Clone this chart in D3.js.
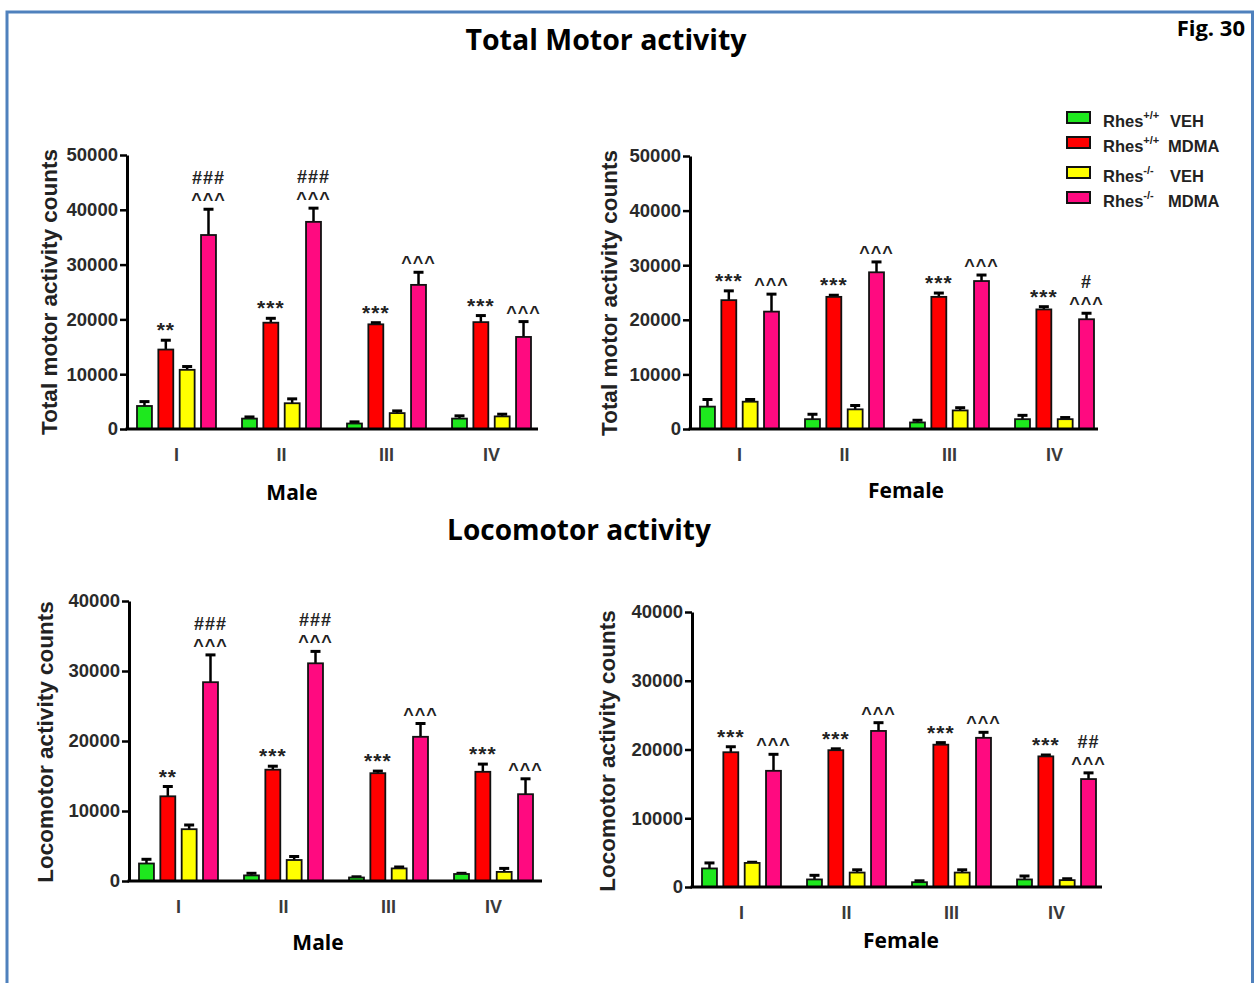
<!DOCTYPE html>
<html>
<head>
<meta charset="utf-8">
<script src="https://cdn.jsdelivr.net/npm/d3@7"></script>
<style>
	body { margin: 0; background: #fff; }
	svg { display: block; }
</style>
</head>
<body>
<svg width="1255" height="983"></svg>
<script>
const groups = ['I', 'II', 'III', 'IV'];
const seriesLabels = [
	{ sup: '+/+', name: 'VEH' },
	{ sup: '+/+', name: 'MDMA' },
	{ sup: '-/-', name: 'VEH' },
	{ sup: '-/-', name: 'MDMA' }
];
const colors = ['#1ee81e', '#ff0000', '#ffff00', '#ff0a80'];

// rows = Rhes+/+ VEH, Rhes+/+ MDMA, Rhes-/- VEH, Rhes-/- MDMA ; columns = I..IV
const totalMaleMean = [
	[4200, 1900, 1000, 1900],
	[14500, 19400, 19100, 19500],
	[10800, 4700, 2900, 2300],
	[35400, 37800, 26300, 16800]
];
const totalMaleSem = [
	[800, 300, 300, 500],
	[1700, 800, 300, 1200],
	[600, 800, 400, 400],
	[4700, 2500, 2300, 2800]
];
const totalMaleMarks = [
	['', '', '', ''],
	['**', '***', '***', '***'],
	['', '', '', ''],
	['###|^^^', '###|^^^', '^^^', '^^^']
];

const totalFemaleMean = [
	[4100, 1800, 1200, 1800],
	[23600, 24200, 24200, 21900],
	[5000, 3600, 3400, 1800],
	[21500, 28700, 27100, 20100]
];
const totalFemaleSem = [
	[1300, 900, 400, 700],
	[1700, 300, 700, 500],
	[400, 700, 500, 300],
	[3200, 1900, 1100, 1100]
];
const totalFemaleMarks = [
	['', '', '', ''],
	['***', '***', '***', '***'],
	['', '', '', ''],
	['^^^', '^^^', '^^^', '#|^^^']
];

const locoMaleMean = [
	[2500, 800, 500, 1000],
	[12100, 15900, 15400, 15600],
	[7400, 3000, 1800, 1300],
	[28400, 31100, 20600, 12400]
];
const locoMaleSem = [
	[600, 300, 100, 100],
	[1400, 500, 300, 1100],
	[600, 500, 200, 500],
	[3900, 1700, 1900, 2200]
];
const locoMaleMarks = [
	['', '', '', ''],
	['**', '***', '***', '***'],
	['', '', '', ''],
	['###|^^^', '###|^^^', '^^^', '^^^']
];

const locoFemaleMean = [
	[2700, 1100, 700, 1100],
	[19600, 19900, 20700, 19000],
	[3500, 2100, 2100, 1000],
	[16900, 22700, 21700, 15700]
];
const locoFemaleSem = [
	[800, 600, 200, 500],
	[800, 200, 300, 200],
	[100, 400, 400, 200],
	[2400, 1200, 800, 900]
];
const locoFemaleMarks = [
	['', '', '', ''],
	['***', '***', '***', '***'],
	['', '', '', ''],
	['^^^', '^^^', '^^^', '##|^^^']
];

const svg = d3.select('svg');
const titleFont = '"Open Sans", sans-serif';
const plotFont = '"Liberation Sans", Arial, sans-serif';

// frame
svg.append('rect')
	.attr('x', 7)
	.attr('y', 12)
	.attr('width', 1245.5)
	.attr('height', 1000)
	.attr('fill', 'none')
	.attr('stroke', '#4f81bd')
	.attr('stroke-width', 3);

function drawPanel(p) {
	const g = svg.append('g');
	const y = d3.scaleLinear()
		.domain([0, p.max])
		.range([p.y0, p.yTop]);
	const x0 = d3.scaleBand()
		.domain(groups)
		.range([p.x + 10, p.x + 404])
		.paddingInner(0.248);
	const x1 = d3.scaleBand()
		.domain(d3.range(4))
		.range([0, x0.bandwidth()])
		.paddingInner(0.3);

	const rows = [];
	p.mean.forEach((vals, s) => vals.forEach((v, i) => {
		rows.push({ s, group: groups[i], v, e: p.sem[s][i], mark: p.marks[s][i] });
	}));

	const cx = d => x0(d.group) + x1(d.s) + x1.bandwidth() / 2;

	// error bars (upper half only)
	g.selectAll('line.err')
		.data(rows)
		.enter()
		.append('line')
		.attr('class', 'err')
		.attr('x1', cx)
		.attr('x2', cx)
		.attr('y1', d => y(d.v))
		.attr('y2', d => y(d.v + d.e))
		.attr('stroke', '#000')
		.attr('stroke-width', 2.5);
	g.selectAll('line.cap')
		.data(rows)
		.enter()
		.append('line')
		.attr('class', 'cap')
		.attr('x1', d => cx(d) - 5)
		.attr('x2', d => cx(d) + 5)
		.attr('y1', d => y(d.v + d.e))
		.attr('y2', d => y(d.v + d.e))
		.attr('stroke', '#000')
		.attr('stroke-width', 3);

	g.selectAll('rect.bar')
		.data(rows)
		.enter()
		.append('rect')
		.attr('class', 'bar')
		.attr('x', d => x0(d.group) + x1(d.s))
		.attr('y', d => y(d.v))
		.attr('width', x1.bandwidth())
		.attr('height', d => y(0) - y(d.v))
		.attr('fill', d => colors[d.s])
		.attr('stroke', '#111')
		.attr('stroke-width', 1.8);

	// significance marks
	rows.filter(d => d.mark).forEach(d => {
		const lines = d.mark.split('|').reverse();
		lines.forEach((t, k) => {
			const star = t.startsWith('*');
			g.append('text')
				.attr('x', cx(d))
				.attr('y', y(d.v + d.e) - 3 - k * 22)
				.attr('text-anchor', 'middle')
				.attr('font-family', plotFont)
				.attr('font-weight', 'bold')
				.attr('font-size', star ? 21 : 18)
				.attr('letter-spacing', star ? 1 : 1)
				.attr('fill', '#222')
				.text(t);
		});
	});

	// y axis
	const yAxis = d3.axisLeft(y)
		.tickValues(d3.range(0, p.max + 1, 10000))
		.tickFormat(d3.format('d'))
		.tickSize(7)
		.tickSizeOuter(0)
		.tickPadding(2);
	const ya = g.append('g')
		.attr('transform', 'translate(' + p.x + ',0)')
		.call(yAxis);
	ya.select('.domain').attr('stroke-width', 3).attr('stroke', '#000');
	ya.selectAll('.tick line').attr('stroke-width', 2.5).attr('stroke', '#000');
	ya.selectAll('.tick text')
		.attr('font-family', plotFont)
		.attr('font-weight', 'bold')
		.attr('font-size', 18.5)
		.attr('fill', '#2a2a2a');

	// x axis
	const xAxis = d3.axisBottom(x0)
		.tickSize(0)
		.tickSizeOuter(0)
		.tickPadding(19);
	const xa = g.append('g')
		.attr('transform', 'translate(0,' + p.y0 + ')')
		.call(xAxis);
	xa.select('.domain').remove();
	xa.selectAll('.tick text')
		.attr('font-family', plotFont)
		.attr('font-weight', 'bold')
		.attr('font-size', 18)
		.attr('fill', '#3a3a3a');
	g.append('line')
		.attr('x1', p.x - 1.5)
		.attr('x2', p.xEnd)
		.attr('y1', p.y0)
		.attr('y2', p.y0)
		.attr('stroke', '#000')
		.attr('stroke-width', 3);

	// axis title
	g.append('text')
		.attr('transform', 'translate(' + p.titleX + ',' + p.titleY + ') rotate(-90)')
		.attr('text-anchor', 'middle')
		.attr('font-family', plotFont)
		.attr('font-weight', 'bold')
		.attr('font-size', 22.5)
		.attr('fill', '#222')
		.text(p.yTitle);

	// sex label
	g.append('text')
		.attr('x', p.sexX)
		.attr('y', p.sexY)
		.attr('text-anchor', 'middle')
		.attr('font-family', titleFont)
		.attr('font-weight', 'bold')
		.attr('font-size', 21)
		.attr('fill', '#000')
		.text(p.sex);
}

drawPanel({
	mean: totalMaleMean, sem: totalMaleSem, marks: totalMaleMarks, max: 50000,
	x: 127, xEnd: 538, yTop: 155, y0: 429,
	yTitle: 'Total motor activity counts', titleX: 57, titleY: 292,
	sex: 'Male', sexX: 292, sexY: 500
});
drawPanel({
	mean: totalFemaleMean, sem: totalFemaleSem, marks: totalFemaleMarks, max: 50000,
	x: 690, xEnd: 1098, yTop: 156, y0: 429,
	yTitle: 'Total motor activity counts', titleX: 617, titleY: 293,
	sex: 'Female', sexX: 906, sexY: 498
});
drawPanel({
	mean: locoMaleMean, sem: locoMaleSem, marks: locoMaleMarks, max: 40000,
	x: 129, xEnd: 542, yTop: 601, y0: 881,
	yTitle: 'Locomotor activity counts', titleX: 53, titleY: 742,
	sex: 'Male', sexX: 318, sexY: 950
});
drawPanel({
	mean: locoFemaleMean, sem: locoFemaleSem, marks: locoFemaleMarks, max: 40000,
	x: 692, xEnd: 1102, yTop: 612, y0: 887,
	yTitle: 'Locomotor activity counts', titleX: 615, titleY: 751,
	sex: 'Female', sexX: 901, sexY: 948
});

// titles
svg.append('text')
	.attr('x', 606)
	.attr('y', 50)
	.attr('text-anchor', 'middle')
	.attr('font-family', titleFont)
	.attr('font-weight', 'bold')
	.attr('font-size', 28.5)
	.attr('fill', '#000')
	.text('Total Motor activity');
svg.append('text')
	.attr('x', 579)
	.attr('y', 540)
	.attr('text-anchor', 'middle')
	.attr('font-family', titleFont)
	.attr('font-weight', 'bold')
	.attr('font-size', 28)
	.attr('fill', '#000')
	.text('Locomotor activity');
svg.append('text')
	.attr('x', 1245)
	.attr('y', 36)
	.attr('text-anchor', 'end')
	.attr('font-family', titleFont)
	.attr('font-weight', 'bold')
	.attr('font-size', 22)
	.attr('fill', '#000')
	.text('Fig. 30');

// legend
const legendY = [112, 137, 167, 192];
const legend = svg.append('g');
seriesLabels.forEach((d, i) => {
	legend.append('rect')
		.attr('x', 1067)
		.attr('y', legendY[i])
		.attr('width', 23)
		.attr('height', 11)
		.attr('fill', colors[i])
		.attr('stroke', '#111')
		.attr('stroke-width', 2);
	const t = legend.append('text')
		.attr('x', 1103)
		.attr('y', legendY[i] + 15)
		.attr('font-family', plotFont)
		.attr('font-weight', 'bold')
		.attr('font-size', 16.5)
		.attr('fill', '#222');
	t.append('tspan').text('Rhes');
	t.append('tspan')
		.attr('dy', -8)
		.attr('font-size', 11)
		.text(d.sup);
	t.append('tspan')
		.attr('x', d.name === 'VEH' ? 1170 : 1168)
		.attr('dy', 8)
		.text(d.name);
});
</script>
</body>
</html>
